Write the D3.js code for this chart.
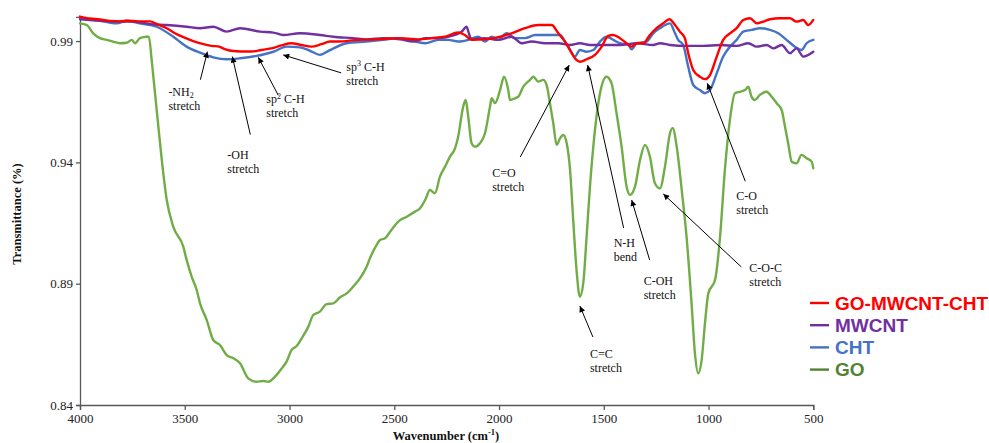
<!DOCTYPE html>
<html>
<head>
<meta charset="utf-8">
<script src="https://cdn.jsdelivr.net/npm/d3@7"></script>
<style>
  html, body { margin: 0; padding: 0; background: #fff; }
  svg { display: block; }
</style>
</head>
<body>
<svg id="chart" width="989" height="443"></svg>
<script>
// FTIR spectra: transmittance vs wavenumber (cm-1)

const seriesNames = ["GO-MWCNT-CHT", "MWCNT", "CHT", "GO"];

const goWavenumber = [4000, 3968, 3937, 3905, 3873, 3843, 3809, 3777, 3753, 3737, 3714, 3682, 3671, 3658, 3642, 3626, 3586, 3555, 3507, 3491, 3467, 3443, 3427, 3395, 3364, 3332, 3300, 3268, 3236, 3197, 3157, 3125, 3101, 3069, 3037, 3014, 2990, 2966, 2942, 2910, 2887, 2855, 2823, 2791, 2759, 2727, 2696, 2664, 2632, 2616, 2584, 2568, 2544, 2520, 2481, 2441, 2401, 2377, 2350, 2330, 2306, 2282, 2258, 2234, 2210, 2195, 2171, 2159, 2147, 2131, 2115, 2091, 2067, 2043, 2035, 2019, 1995, 1976, 1956, 1948, 1924, 1908, 1884, 1852, 1836, 1813, 1789, 1773, 1757, 1741, 1725, 1709, 1693, 1677, 1661, 1646, 1630, 1614, 1598, 1582, 1566, 1542, 1518, 1487, 1463, 1439, 1415, 1391, 1375, 1351, 1327, 1303, 1280, 1256, 1232, 1208, 1184, 1171, 1152, 1128, 1105, 1081, 1065, 1049, 1033, 1017, 1001, 969, 945, 922, 898, 874, 850, 826, 810, 795, 779, 755, 723, 699, 675, 651, 635, 620, 603, 580, 556, 532, 508, 500];
const goTransmittance = [0.9973, 0.9966, 0.9932, 0.9912, 0.9905, 0.9898, 0.9891, 0.9893, 0.9905, 0.9891, 0.9912, 0.9918, 0.9918, 0.9822, 0.9686, 0.9547, 0.9245, 0.9135, 0.9053, 0.8998, 0.8929, 0.8874, 0.8819, 0.8750, 0.8668, 0.8647, 0.8606, 0.8593, 0.8572, 0.8510, 0.8496, 0.8499, 0.8496, 0.8517, 0.8551, 0.8579, 0.8627, 0.8643, 0.8675, 0.8723, 0.8771, 0.8785, 0.8816, 0.8819, 0.8844, 0.8860, 0.8888, 0.8922, 0.8970, 0.9005, 0.9060, 0.9080, 0.9087, 0.9114, 0.9156, 0.9176, 0.9197, 0.9211, 0.9250, 0.9286, 0.9273, 0.9341, 0.9382, 0.9424, 0.9458, 0.9506, 0.9630, 0.9657, 0.9588, 0.9479, 0.9465, 0.9479, 0.9520, 0.9630, 0.9664, 0.9644, 0.9698, 0.9753, 0.9698, 0.9657, 0.9664, 0.9671, 0.9712, 0.9740, 0.9753, 0.9733, 0.9740, 0.9719, 0.9644, 0.9561, 0.9472, 0.9499, 0.9513, 0.9479, 0.9369, 0.9163, 0.8956, 0.8846, 0.8902, 0.9094, 0.9300, 0.9534, 0.9685, 0.9753, 0.9726, 0.9602, 0.9465, 0.9300, 0.9266, 0.9300, 0.9410, 0.9472, 0.9424, 0.9314, 0.9293, 0.9382, 0.9520, 0.9541, 0.9465, 0.9286, 0.9094, 0.8819, 0.8613, 0.8531, 0.8585, 0.8737, 0.8860, 0.8915, 0.9094, 0.9369, 0.9575, 0.9685, 0.9691, 0.9698, 0.9712, 0.9671, 0.9657, 0.9678, 0.9691, 0.9671, 0.9644, 0.9616, 0.9547, 0.9479, 0.9403, 0.9396, 0.9431, 0.9417, 0.9403, 0.9376];

const compositeWavenumber = [4000, 3952, 3905, 3857, 3809, 3771, 3723, 3666, 3633, 3586, 3547, 3504, 3453, 3405, 3373, 3341, 3309, 3278, 3230, 3182, 3135, 3087, 3039, 2992, 2944, 2896, 2848, 2807, 2767, 2672, 2576, 2481, 2385, 2321, 2258, 2195, 2163, 2131, 2067, 2004, 1940, 1876, 1813, 1749, 1717, 1685, 1661, 1638, 1614, 1582, 1542, 1510, 1479, 1455, 1423, 1391, 1367, 1343, 1312, 1280, 1248, 1216, 1187, 1160, 1137, 1113, 1097, 1073, 1041, 1017, 993, 961, 930, 898, 866, 834, 802, 770, 739, 707, 659, 611, 580, 548, 524, 500];
const compositeTransmittance = [1.0001, 0.9993, 0.9989, 0.9983, 0.9981, 0.9984, 0.9981, 0.9981, 0.9970, 0.9953, 0.9932, 0.9915, 0.9898, 0.9886, 0.9880, 0.9878, 0.9867, 0.9860, 0.9857, 0.9857, 0.9863, 0.9870, 0.9882, 0.9891, 0.9884, 0.9877, 0.9887, 0.9898, 0.9898, 0.9905, 0.9907, 0.9912, 0.9907, 0.9912, 0.9918, 0.9935, 0.9925, 0.9905, 0.9907, 0.9916, 0.9932, 0.9953, 0.9966, 0.9966, 0.9932, 0.9898, 0.9863, 0.9829, 0.9815, 0.9825, 0.9843, 0.9877, 0.9921, 0.9925, 0.9912, 0.9891, 0.9877, 0.9891, 0.9891, 0.9925, 0.9953, 0.9973, 0.9990, 0.9966, 0.9939, 0.9912, 0.9850, 0.9781, 0.9753, 0.9743, 0.9760, 0.9836, 0.9905, 0.9932, 0.9953, 0.9987, 0.9994, 0.9973, 0.9980, 0.9990, 0.9994, 0.9994, 0.9980, 0.9987, 0.9966, 0.9987];

const mwcntWavenumber = [4000, 3905, 3825, 3746, 3666, 3586, 3491, 3427, 3364, 3300, 3236, 3141, 3077, 3030, 2950, 2855, 2791, 2696, 2632, 2552, 2473, 2409, 2353, 2290, 2226, 2178, 2155, 2143, 2131, 2067, 2004, 1940, 1892, 1844, 1781, 1717, 1661, 1614, 1566, 1503, 1423, 1343, 1264, 1232, 1184, 1105, 1025, 945, 866, 810, 770, 723, 691, 651, 611, 580, 548, 500];
const mwcntTransmittance = [0.9990, 0.9984, 0.9980, 0.9980, 0.9970, 0.9966, 0.9959, 0.9953, 0.9959, 0.9939, 0.9953, 0.9939, 0.9935, 0.9925, 0.9932, 0.9925, 0.9918, 0.9912, 0.9907, 0.9912, 0.9907, 0.9898, 0.9912, 0.9912, 0.9921, 0.9939, 0.9959, 0.9929, 0.9907, 0.9912, 0.9905, 0.9918, 0.9891, 0.9898, 0.9891, 0.9891, 0.9884, 0.9891, 0.9884, 0.9884, 0.9884, 0.9891, 0.9884, 0.9891, 0.9884, 0.9880, 0.9880, 0.9884, 0.9880, 0.9891, 0.9877, 0.9884, 0.9870, 0.9884, 0.9850, 0.9870, 0.9836, 0.9856];

const chtWavenumber = [4000, 3905, 3825, 3777, 3714, 3634, 3555, 3491, 3427, 3364, 3300, 3236, 3157, 3077, 3014, 2950, 2902, 2855, 2807, 2727, 2632, 2552, 2473, 2353, 2290, 2242, 2195, 2147, 2099, 2067, 2035, 2004, 1964, 1924, 1876, 1828, 1765, 1709, 1685, 1661, 1638, 1614, 1582, 1550, 1518, 1487, 1455, 1423, 1383, 1367, 1343, 1296, 1264, 1232, 1184, 1160, 1145, 1121, 1097, 1073, 1041, 1017, 993, 961, 930, 898, 866, 834, 795, 755, 707, 667, 628, 588, 556, 532, 500];
const chtTransmittance = [0.9994, 0.9984, 0.9973, 0.9984, 0.9973, 0.9959, 0.9918, 0.9877, 0.9852, 0.9833, 0.9825, 0.9829, 0.9839, 0.9856, 0.9877, 0.9874, 0.9860, 0.9843, 0.9863, 0.9891, 0.9898, 0.9905, 0.9912, 0.9891, 0.9905, 0.9905, 0.9898, 0.9905, 0.9918, 0.9898, 0.9918, 0.9905, 0.9932, 0.9912, 0.9912, 0.9925, 0.9925, 0.9925, 0.9898, 0.9863, 0.9836, 0.9863, 0.9856, 0.9863, 0.9898, 0.9918, 0.9905, 0.9891, 0.9884, 0.9866, 0.9891, 0.9898, 0.9932, 0.9953, 0.9973, 0.9932, 0.9905, 0.9884, 0.9794, 0.9719, 0.9698, 0.9685, 0.9698, 0.9767, 0.9836, 0.9877, 0.9905, 0.9939, 0.9946, 0.9953, 0.9946, 0.9932, 0.9905, 0.9877, 0.9863, 0.9891, 0.9905];

const xTicks = [4000, 3500, 3000, 2500, 2000, 1500, 1000, 500];
const yTicks = [0.84, 0.89, 0.94, 0.99];

// Band assignments: arrow tip at (wavenumber, transmittance)
const bandLabels = [
  { wn: 3392, t: 0.9856, lines: [["-NH", ""], ["stretch"]], sub: "2" },
  { wn: 3273, t: 0.9836, lines: [["-OH"], ["stretch"]] },
  { wn: 3149, t: 0.9833, lines: [["sp", "2", " C-H"], ["stretch"]] },
  { wn: 3030, t: 0.9843, lines: [["sp", "3", " C-H"], ["stretch"]] },
  { wn: 1665, t: 0.9801, lines: [["C=O"], ["stretch"]] },
  { wn: 1577, t: 0.9801, lines: [["N-H"], ["bend"]] },
  { wn: 1367, t: 0.9245, lines: [["C-OH"], ["stretch"]] },
  { wn: 1216, t: 0.9270, lines: [["C-O-C"], ["stretch"]] },
  { wn: 1006, t: 0.9726, lines: [["C-O"], ["stretch"]] },
  { wn: 1614, t: 0.8808, lines: [["C=C"], ["stretch"]] }
];
// label geometry (pixel offsets from the arrow tip): tail, text origin
const labelLayout = [
  { tail: [-7, 28], text: [-39, 44] },
  { tail: [18, 78], text: [-5, 102] },
  { tail: [20, 38], text: [8, 46] },
  { tail: [58, 18], text: [63, 16] },
  { tail: [-49, 92], text: [-77, 112] },
  { tail: [36, 163], text: [26, 182] },
  { tail: [18, 60], text: [12, 85] },
  { tail: [78, 73], text: [86, 78] },
  { tail: [38, 98], text: [29, 117] },
  { tail: [13, 31], text: [10, 52] }
];

const colors = {
  "GO-MWCNT-CHT": "#FF0000",
  "MWCNT": "#7030A0",
  "CHT": "#4472C4",
  "GO": "#70AD47"
};
const legendColors = {
  "GO-MWCNT-CHT": "#FF0000",
  "MWCNT": "#7030A0",
  "CHT": "#4472C4",
  "GO": "#548235"
};

const svg = d3.select("#chart");
const margin = { left: 80, right: 813.3, top: 16.8, bottom: 405 };

const x = d3.scaleLinear().domain([4000, 500]).range([margin.left, margin.right]);
const y = d3.scaleLinear().domain([0.84, 1.0]).range([margin.bottom, margin.top]);

const axisColor = "#595959";
const serif = "'Liberation Serif', 'Times New Roman', serif";

// axes
const xAxis = svg.append("g")
  .attr("transform", `translate(0,${margin.bottom})`)
  .call(d3.axisBottom(x).tickValues(xTicks).tickSize(5).tickFormat(d3.format("d")));
const yAxis = svg.append("g")
  .attr("transform", `translate(${margin.left},0)`)
  .call(d3.axisLeft(y).tickValues(yTicks).tickSize(4).tickFormat(d3.format(".2f")));

[xAxis, yAxis].forEach(g => {
  g.select(".domain").attr("stroke", axisColor).attr("stroke-width", 1.3);
  g.selectAll(".tick line").attr("stroke", axisColor).attr("stroke-width", 1.3);
  g.selectAll(".tick text")
    .attr("fill", "#222")
    .style("font-family", serif)
    .style("font-size", "13px");
});
xAxis.selectAll(".tick text").attr("dy", "0.95em").attr("y", 6);
yAxis.selectAll(".tick text").attr("x", -7);

// axis titles
svg.append("text")
  .attr("x", 446).attr("y", 440)
  .attr("text-anchor", "middle")
  .style("font-family", serif).style("font-size", "12.5px").style("font-weight", "bold")
  .attr("fill", "#111")
  .call(t => {
    t.append("tspan").text("Wavenumber (cm");
    t.append("tspan").attr("dy", -5).style("font-size", "8.5px").text("-1");
    t.append("tspan").attr("dy", 5).text(")");
  });

svg.append("text")
  .attr("transform", "translate(21,214) rotate(-90)")
  .attr("text-anchor", "middle")
  .style("font-family", serif).style("font-size", "12.5px").style("font-weight", "bold")
  .attr("fill", "#111")
  .text("Transmittance (%)");

// spectra
const line = d3.line()
  .x(d => x(d[0]))
  .y(d => y(d[1]))
  .curve(d3.curveMonotoneX);

const spectra = [
  { name: "GO", wn: goWavenumber, t: goTransmittance },
  { name: "CHT", wn: chtWavenumber, t: chtTransmittance },
  { name: "MWCNT", wn: mwcntWavenumber, t: mwcntTransmittance },
  { name: "GO-MWCNT-CHT", wn: compositeWavenumber, t: compositeTransmittance }
];

svg.append("g").selectAll("path")
  .data(spectra)
  .join("path")
  .attr("d", s => line(s.wn.map((w, i) => [w, s.t[i]])))
  .attr("fill", "none")
  .attr("stroke", s => colors[s.name])
  .attr("stroke-width", 2.4)
  .attr("stroke-linejoin", "round")
  .attr("stroke-linecap", "round");

// arrowhead
svg.append("defs").append("marker")
  .attr("id", "arrowhead")
  .attr("viewBox", "0 0 10 10")
  .attr("refX", 10).attr("refY", 5)
  .attr("markerWidth", 7).attr("markerHeight", 6)
  .attr("markerUnits", "userSpaceOnUse")
  .attr("orient", "auto")
  .append("path")
  .attr("d", "M0,0 L10,5 L0,10 z")
  .attr("fill", "#000");

// band annotations
const ann = svg.append("g");
bandLabels.forEach((b, i) => {
  const lay = labelLayout[i];
  const tx = x(b.wn), ty = y(b.t);
  ann.append("line")
    .attr("x1", tx + lay.tail[0]).attr("y1", ty + lay.tail[1])
    .attr("x2", tx).attr("y2", ty)
    .attr("stroke", "#000").attr("stroke-width", 1)
    .attr("marker-end", "url(#arrowhead)");
  const text = ann.append("text")
    .attr("x", tx + lay.text[0]).attr("y", ty + lay.text[1])
    .style("font-family", serif).style("font-size", "12px")
    .attr("fill", "#111");
  b.lines.forEach((parts, li) => {
    text.append("tspan")
      .attr("x", tx + lay.text[0])
      .attr("y", ty + lay.text[1] + li * 14)
      .text(parts[0]);
    if (li === 0 && b.sub) {
      text.append("tspan").attr("dy", 2.5).style("font-size", "8px").text(b.sub);
    }
    if (parts.length > 2) {
      text.append("tspan").attr("dy", -4.5).style("font-size", "8px").text(parts[1]);
      text.append("tspan").attr("dy", 4.5).text(parts[2]);
    }
  });
});

// legend
const legend = svg.append("g").attr("transform", "translate(810,303)");
seriesNames.forEach((name, i) => {
  const row = legend.append("g").attr("transform", `translate(0,${i * 22.2})`);
  row.append("line")
    .attr("x1", 0).attr("x2", 19).attr("y1", 0).attr("y2", 0)
    .attr("stroke", legendColors[name]).attr("stroke-width", 2.4);
  row.append("text")
    .attr("x", 25).attr("y", 0).attr("dy", "0.36em")
    .style("font-family", "'Liberation Sans', Arial, sans-serif")
    .style("font-size", "19px").style("font-weight", "bold")
    .attr("fill", legendColors[name])
    .text(name);
});
</script>
</body>
</html>
